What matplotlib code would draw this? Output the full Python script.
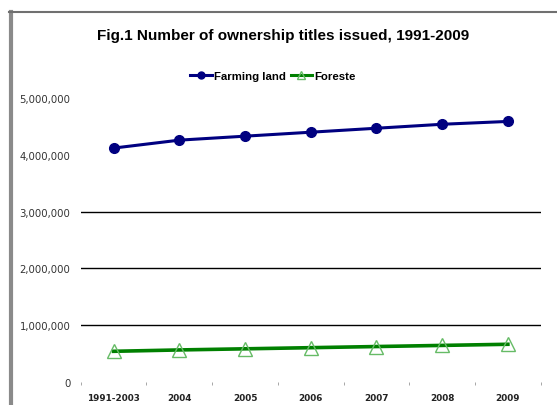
import matplotlib

matplotlib.use('Agg')
import matplotlib.pyplot as plt
from matplotlib.lines import Line2D

plt.rcParams['font.family'] = ['Liberation Sans', 'DejaVu Sans']

# data
years = ['1991-2003', '2004', '2005', '2006', '2007', '2008', '2009']
farming_land = [4120000, 4260000, 4330000, 4400000, 4470000, 4540000, 4590000]
forests = [536000, 560000, 580000, 600000, 620000, 640000, 660000]
grid_values = [1000000, 2000000, 3000000]
y_ticks = [0, 1000000, 2000000, 3000000, 4000000, 5000000]

fig = plt.figure(figsize=(5.57, 4.06), dpi=100, facecolor='w')
ax = fig.add_axes([0.1449, 0.0574, 0.8259, 0.6983])

x = list(range(len(years)))
for g in grid_values:
    ax.axhline(g, color='black', lw=1.0, zorder=1)

ax.plot(x, farming_land, '-', color='#000080', lw=2.2, marker='o',
        markersize=7, markerfacecolor='#000080', markeredgecolor='#000080',
        label='Farming land', zorder=3)
ax.plot(x, forests, '-', color='#008000', lw=2.6, zorder=3)
ax.plot(x, forests, linestyle='none', marker='^', markersize=10,
        markerfacecolor='none', markeredgecolor='#66bb66', markeredgewidth=1.0,
        zorder=4)

ax.set_xlim(-0.5, len(years) - 0.5)
ax.set_ylim(0, 5000000)
ax.set_yticks(y_ticks)
ax.set_yticklabels(['{:,}'.format(v) for v in y_ticks], fontsize=7.3,
                   color='#333333', family='DejaVu Sans')
ax.set_xticks(x)
ax.set_xticklabels(years, fontsize=6.4, fontweight='bold', color='#222222',
                   family='DejaVu Sans')
ax.set_xticks([i - 0.5 for i in range(len(years) + 1)], minor=True)
ax.tick_params(axis='x', which='major', length=0, pad=8)
ax.tick_params(axis='x', which='minor', length=2, color='#999999', direction='out')
ax.tick_params(axis='y', length=0, pad=7.5)
for s in ax.spines.values():
    s.set_visible(False)

fig.text(283 / 557, 1 - 36 / 406, 'Fig.1 Number of ownership titles issued, 1991-2009',
         ha='center', va='center', fontsize=11, fontweight='bold')

handles = [
    Line2D([], [], color='#000080', lw=2.2, marker='o', markersize=5),
    Line2D([], [], color='#008000', lw=2.2, marker='^', markersize=6,
           markerfacecolor='none', markeredgecolor='#66bb66'),
]
fig.legend(handles, ['Farming land', 'Foreste'], loc='center',
           bbox_to_anchor=(273 / 557, 1 - 77 / 406), ncol=2, frameon=False,
           handlelength=1.9, handletextpad=0.2, columnspacing=0.4,
           prop={'weight': 'semibold', 'size': 8.2})

# chart area border, cropped on the right and bottom
fig.add_artist(Line2D([10.5 / 557, 10.5 / 557], [0, 1 - 13 / 406],
                      transform=fig.transFigure, color='#8a8a8a', lw=3))
fig.add_artist(Line2D([9 / 557, 1], [1 - 13 / 406, 1 - 13 / 406],
                      transform=fig.transFigure, color='#707070', lw=1.5))

plt.savefig('out.png', dpi=100)
